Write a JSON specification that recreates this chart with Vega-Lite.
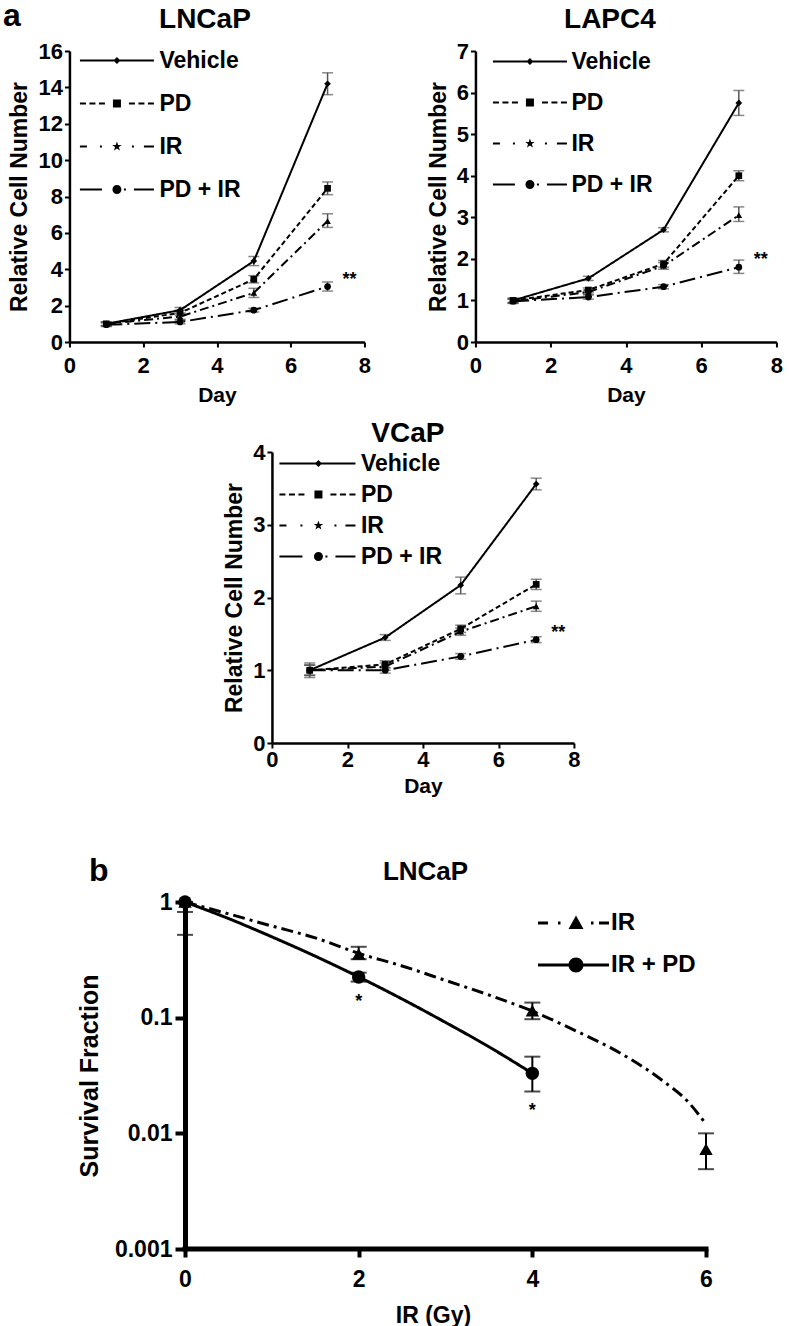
{
  "$schema": "https://vega.github.io/schema/vega-lite/v6.json",
  "padding": {"left": 2, "top": 0, "right": 2, "bottom": 2},
  "background": "white",
  "config": {
    "font": "Liberation Sans",
    "view": {"stroke": null},
    "axis": {"grid": false, "domainColor": "black", "tickColor": "black", "labelColor": "black", "titleColor": "black", "labelFontWeight": "bold", "titleFontWeight": "bold", "labelFont": "Liberation Sans", "titleFont": "Liberation Sans", "labelOverlap": false, "labelFlush": false},
    "title": {"fontWeight": "bold", "color": "black", "font": "Liberation Sans"}
  },
  "datasets": {
    "lncap": [
      {"day": 1, "series": "Vehicle", "value": 1.0, "lo": 0.9, "hi": 1.1},
      {"day": 3, "series": "Vehicle", "value": 1.75, "lo": 1.6, "hi": 1.9},
      {"day": 5, "series": "Vehicle", "value": 4.45, "lo": 4.2, "hi": 4.7},
      {"day": 7, "series": "Vehicle", "value": 14.2, "lo": 13.6, "hi": 14.8},
      {"day": 1, "series": "PD", "value": 1.0, "lo": 0.9, "hi": 1.1},
      {"day": 3, "series": "PD", "value": 1.6, "lo": 1.45, "hi": 1.75},
      {"day": 5, "series": "PD", "value": 3.45, "lo": 3.25, "hi": 3.65},
      {"day": 7, "series": "PD", "value": 8.45, "lo": 8.1, "hi": 8.8},
      {"day": 1, "series": "IR", "value": 1.0, "lo": 0.9, "hi": 1.1},
      {"day": 3, "series": "IR", "value": 1.4, "lo": 1.25, "hi": 1.55},
      {"day": 5, "series": "IR", "value": 2.7, "lo": 2.45, "hi": 2.95},
      {"day": 7, "series": "IR", "value": 6.65, "lo": 6.3, "hi": 7.05},
      {"day": 1, "series": "PD + IR", "value": 0.95, "lo": 0.85, "hi": 1.05},
      {"day": 3, "series": "PD + IR", "value": 1.1, "lo": 1.0, "hi": 1.2},
      {"day": 5, "series": "PD + IR", "value": 1.75, "lo": 1.65, "hi": 1.85},
      {"day": 7, "series": "PD + IR", "value": 3.05, "lo": 2.8, "hi": 3.3}
    ],
    "lapc4": [
      {"day": 1, "series": "Vehicle", "value": 1.0, "lo": 0.95, "hi": 1.05},
      {"day": 3, "series": "Vehicle", "value": 1.53, "lo": 1.48, "hi": 1.58},
      {"day": 5, "series": "Vehicle", "value": 2.7, "lo": 2.65, "hi": 2.75},
      {"day": 7, "series": "Vehicle", "value": 5.75, "lo": 5.45, "hi": 6.05},
      {"day": 1, "series": "PD", "value": 1.0, "lo": 0.95, "hi": 1.05},
      {"day": 3, "series": "PD", "value": 1.25, "lo": 1.2, "hi": 1.3},
      {"day": 5, "series": "PD", "value": 1.88, "lo": 1.8, "hi": 1.96},
      {"day": 7, "series": "PD", "value": 4.0, "lo": 3.88, "hi": 4.12},
      {"day": 1, "series": "IR", "value": 0.98, "lo": 0.93, "hi": 1.03},
      {"day": 3, "series": "IR", "value": 1.2, "lo": 1.15, "hi": 1.25},
      {"day": 5, "series": "IR", "value": 1.83, "lo": 1.75, "hi": 1.91},
      {"day": 7, "series": "IR", "value": 3.05, "lo": 2.9, "hi": 3.25},
      {"day": 1, "series": "PD + IR", "value": 0.98, "lo": 0.93, "hi": 1.03},
      {"day": 3, "series": "PD + IR", "value": 1.08, "lo": 1.03, "hi": 1.13},
      {"day": 5, "series": "PD + IR", "value": 1.33, "lo": 1.28, "hi": 1.38},
      {"day": 7, "series": "PD + IR", "value": 1.8, "lo": 1.65, "hi": 1.97}
    ],
    "vcap": [
      {"day": 1, "series": "Vehicle", "value": 1.0, "lo": 0.9, "hi": 1.1},
      {"day": 3, "series": "Vehicle", "value": 1.45, "lo": 1.41, "hi": 1.49},
      {"day": 5, "series": "Vehicle", "value": 2.17, "lo": 2.05, "hi": 2.28},
      {"day": 7, "series": "Vehicle", "value": 3.56, "lo": 3.48, "hi": 3.64},
      {"day": 1, "series": "PD", "value": 1.0, "lo": 0.93, "hi": 1.07},
      {"day": 3, "series": "PD", "value": 1.08, "lo": 1.03, "hi": 1.13},
      {"day": 5, "series": "PD", "value": 1.57, "lo": 1.52, "hi": 1.62},
      {"day": 7, "series": "PD", "value": 2.18, "lo": 2.11, "hi": 2.25},
      {"day": 1, "series": "IR", "value": 1.0, "lo": 0.93, "hi": 1.07},
      {"day": 3, "series": "IR", "value": 1.05, "lo": 1.0, "hi": 1.1},
      {"day": 5, "series": "IR", "value": 1.53, "lo": 1.48, "hi": 1.58},
      {"day": 7, "series": "IR", "value": 1.88, "lo": 1.81, "hi": 1.95},
      {"day": 1, "series": "PD + IR", "value": 1.0, "lo": 0.93, "hi": 1.07},
      {"day": 3, "series": "PD + IR", "value": 1.0, "lo": 0.96, "hi": 1.04},
      {"day": 5, "series": "PD + IR", "value": 1.19, "lo": 1.15, "hi": 1.23},
      {"day": 7, "series": "PD + IR", "value": 1.42, "lo": 1.38, "hi": 1.46}
    ],
    "b_pts": [
      {"dose": 0, "series": "IR", "sf": 1.0, "lo": 0.82, "hi": 1.0},
      {"dose": 2, "series": "IR", "sf": 0.355, "lo": 0.32, "hi": 0.41},
      {"dose": 4, "series": "IR", "sf": 0.115, "lo": 0.097, "hi": 0.135},
      {"dose": 6, "series": "IR", "sf": 0.0073, "lo": 0.0049, "hi": 0.01},
      {"dose": 0, "series": "IR + PD", "sf": 1.0, "lo": 0.52, "hi": 1.0},
      {"dose": 2, "series": "IR + PD", "sf": 0.225, "lo": 0.205, "hi": 0.245},
      {"dose": 4, "series": "IR + PD", "sf": 0.033, "lo": 0.023, "hi": 0.046}
    ],
    "b_curve": [
      {"dose": 0, "series": "IR", "sf": 1.0},
      {"dose": 0.5, "series": "IR", "sf": 0.79},
      {"dose": 1, "series": "IR", "sf": 0.62},
      {"dose": 1.5, "series": "IR", "sf": 0.49},
      {"dose": 2, "series": "IR", "sf": 0.36},
      {"dose": 2.5, "series": "IR", "sf": 0.28},
      {"dose": 3, "series": "IR", "sf": 0.21},
      {"dose": 3.5, "series": "IR", "sf": 0.157},
      {"dose": 4, "series": "IR", "sf": 0.114},
      {"dose": 4.5, "series": "IR", "sf": 0.077},
      {"dose": 5, "series": "IR", "sf": 0.05},
      {"dose": 5.5, "series": "IR", "sf": 0.0285},
      {"dose": 5.8, "series": "IR", "sf": 0.0185},
      {"dose": 6, "series": "IR", "sf": 0.012},
      {"dose": 0, "series": "IR + PD", "sf": 1.0},
      {"dose": 0.5, "series": "IR + PD", "sf": 0.72},
      {"dose": 1, "series": "IR + PD", "sf": 0.5},
      {"dose": 1.5, "series": "IR + PD", "sf": 0.34},
      {"dose": 2, "series": "IR + PD", "sf": 0.225},
      {"dose": 2.5, "series": "IR + PD", "sf": 0.145},
      {"dose": 3, "series": "IR + PD", "sf": 0.091},
      {"dose": 3.5, "series": "IR + PD", "sf": 0.056},
      {"dose": 4, "series": "IR + PD", "sf": 0.033}
    ]
  },
  "resolve": {"scale": {"shape": "independent", "strokeDash": "independent"}, "legend": {"shape": "independent", "strokeDash": "independent"}},
  "center": false,
  "spacing": 59,
  "vconcat": [
    {
      "center": true,
      "spacing": 15,
      "resolve": {"scale": {"shape": "independent", "strokeDash": "independent"}, "legend": {"shape": "independent", "strokeDash": "independent"}},
      "vconcat": [
        {
          "title": {"text": "a", "anchor": "start", "fontSize": 32, "offset": -27, "dx": -6, "frame": "bounds"},
          "spacing": 55,
          "resolve": {"scale": {"shape": "independent", "strokeDash": "independent"}, "legend": {"shape": "independent", "strokeDash": "independent"}},
          "hconcat": [
            {
              "width": 295, "height": 291,
              "title": {"text": "LNCaP", "fontSize": 28, "frame": "group", "offset": 6, "dx": -12},
              "data": {"name": "lncap"},
              "encoding": {
                "x": {"field": "day", "type": "quantitative", "scale": {"domain": [0, 8], "nice": false, "zero": false}, "axis": {"values": [0, 2, 4, 6, 8], "title": "Day", "domainWidth": 2.5, "tickWidth": 2, "tickSize": 5, "labelFontSize": 22, "titleFontSize": 21, "labelPadding": 8, "titlePadding": 8}},
                "y": {"field": "value", "type": "quantitative", "scale": {"domain": [0, 16], "nice": false}, "axis": {"values": [0, 2, 4, 6, 8, 10, 12, 14, 16], "title": "Relative Cell Number", "domainWidth": 2.5, "tickWidth": 2, "tickSize": 5, "labelFontSize": 22, "titleFontSize": 23, "labelPadding": 2, "titlePadding": 6}}
              },
              "layer": [
                {"mark": {"type": "errorbar", "ticks": {"size": 11, "thickness": 1.5, "color": "#555"}, "rule": {"strokeWidth": 1.5, "color": "#555"}},
                 "encoding": {"y": {"field": "lo", "type": "quantitative", "scale": {"domain": [0, 16], "nice": false}, "title": "Relative Cell Number"}, "y2": {"field": "hi"}}},
                {"mark": {"type": "line", "color": "black", "strokeWidth": 2},
                 "encoding": {"strokeDash": {"field": "series", "type": "nominal", "scale": {"domain": ["Vehicle", "PD", "IR", "PD + IR"], "range": [[1, 0], [5, 3], [9, 4, 2, 4], [16, 5, 2, 5]]}, "legend": null}}},
                {"mark": {"type": "point", "filled": true, "color": "black", "size": 45, "opacity": 1},
                 "encoding": {"shape": {"field": "series", "type": "nominal", "scale": {"domain": ["Vehicle", "PD", "IR", "PD + IR"], "range": ["diamond", "square", "triangle-up", "circle"]}, "legend": null}}},
                {"transform": [{"filter": "datum.series == 'PD + IR' && datum.day == 7"}],
                 "mark": {"type": "text", "text": "**", "dx": 22, "dy": -7, "fontSize": 18, "fontWeight": "bold", "color": "black"}},
                {"transform": [{"filter": "false"}],
                 "mark": {"type": "point", "size": 100, "filled": true, "color": "black", "opacity": 1},
                 "encoding": {"shape": {"field": "series", "type": "nominal",
                   "scale": {"domain": ["Vehicle", "PD", "IR", "PD + IR"], "range": [
                     "M-1,-0.2H13.8V0.2H-1ZM6.4,-0.7L7.1,0L6.4,0.7L5.7,0Z",
                     "M-1,-0.2H0.2V0.2H-1ZM0.9,-0.2H2.1V0.2H0.9ZM2.8,-0.2H4V0.2H2.8ZM8.8,-0.2H10V0.2H8.8ZM10.7,-0.2H11.9V0.2H10.7ZM12.6,-0.2H13.8V0.2H12.6ZM5.6,-0.8H7.2V0.8H5.6Z",
                     "M-1,-0.2H0.4V0.2H-1ZM3,-0.2H3.4V0.2H3ZM9.4,-0.2H9.8V0.2H9.4ZM11.8,-0.2H13.8V0.2H11.8ZM6.4,-1L6.635,-0.324L7.351,-0.309L6.78,0.124L6.988,0.809L6.4,0.4L5.812,0.809L6.02,0.124L5.449,-0.309L6.165,-0.324Z",
                     "M-1,-0.2H3.4V0.2H-1ZM7.8,-0.2H8.2V0.2H7.8ZM9.8,-0.2H13.8V0.2H9.8ZM5.5,0A0.9,0.9,0,1,1,7.3,0A0.9,0.9,0,1,1,5.5,0Z"]},
                   "legend": {"title": null, "orient": "none", "legendX": 4, "legendY": -2, "direction": "vertical", "symbolSize": 100, "rowPadding": 19, "labelOffset": 63, "labelFontSize": 23, "labelFontWeight": "bold", "labelColor": "black", "labelFont": "Liberation Sans", "padding": 0, "labelLimit": 0,
                     "symbolFillColor": "black", "symbolStrokeWidth": 0, "symbolOpacity": 1}}}}
              ],
              "resolve": {"scale": {"shape": "independent"}, "legend": {"shape": "independent"}}
            },
            {
              "width": 301, "height": 291,
              "title": {"text": "LAPC4", "fontSize": 28, "frame": "group", "offset": 6, "dx": -16},
              "data": {"name": "lapc4"},
              "encoding": {
                "x": {"field": "day", "type": "quantitative", "scale": {"domain": [0, 8], "nice": false, "zero": false}, "axis": {"values": [0, 2, 4, 6, 8], "title": "Day", "domainWidth": 2.5, "tickWidth": 2, "tickSize": 5, "labelFontSize": 22, "titleFontSize": 21, "labelPadding": 8, "titlePadding": 8}},
                "y": {"field": "value", "type": "quantitative", "scale": {"domain": [0, 7], "nice": false}, "axis": {"values": [0, 1, 2, 3, 4, 5, 6, 7], "title": "Relative Cell Number", "domainWidth": 2.5, "tickWidth": 2, "tickSize": 5, "labelFontSize": 22, "titleFontSize": 23, "labelPadding": 2, "titlePadding": 6}}
              },
              "layer": [
                {"mark": {"type": "errorbar", "ticks": {"size": 11, "thickness": 1.5, "color": "#555"}, "rule": {"strokeWidth": 1.5, "color": "#555"}},
                 "encoding": {"y": {"field": "lo", "type": "quantitative", "scale": {"domain": [0, 7], "nice": false}, "title": "Relative Cell Number"}, "y2": {"field": "hi"}}},
                {"mark": {"type": "line", "color": "black", "strokeWidth": 2},
                 "encoding": {"strokeDash": {"field": "series", "type": "nominal", "scale": {"domain": ["Vehicle", "PD", "IR", "PD + IR"], "range": [[1, 0], [5, 3], [9, 4, 2, 4], [16, 5, 2, 5]]}, "legend": null}}},
                {"mark": {"type": "point", "filled": true, "color": "black", "size": 45, "opacity": 1},
                 "encoding": {"shape": {"field": "series", "type": "nominal", "scale": {"domain": ["Vehicle", "PD", "IR", "PD + IR"], "range": ["diamond", "square", "triangle-up", "circle"]}, "legend": null}}},
                {"transform": [{"filter": "datum.series == 'PD + IR' && datum.day == 7"}],
                 "mark": {"type": "text", "text": "**", "dx": 22, "dy": -7, "fontSize": 18, "fontWeight": "bold", "color": "black"}},
                {"transform": [{"filter": "false"}],
                 "mark": {"type": "point", "size": 100, "filled": true, "color": "black", "opacity": 1},
                 "encoding": {"shape": {"field": "series", "type": "nominal",
                   "scale": {"domain": ["Vehicle", "PD", "IR", "PD + IR"], "range": [
                     "M-1,-0.2H13.8V0.2H-1ZM6.4,-0.7L7.1,0L6.4,0.7L5.7,0Z",
                     "M-1,-0.2H0.2V0.2H-1ZM0.9,-0.2H2.1V0.2H0.9ZM2.8,-0.2H4V0.2H2.8ZM8.8,-0.2H10V0.2H8.8ZM10.7,-0.2H11.9V0.2H10.7ZM12.6,-0.2H13.8V0.2H12.6ZM5.6,-0.8H7.2V0.8H5.6Z",
                     "M-1,-0.2H0.4V0.2H-1ZM3,-0.2H3.4V0.2H3ZM9.4,-0.2H9.8V0.2H9.4ZM11.8,-0.2H13.8V0.2H11.8ZM6.4,-1L6.635,-0.324L7.351,-0.309L6.78,0.124L6.988,0.809L6.4,0.4L5.812,0.809L6.02,0.124L5.449,-0.309L6.165,-0.324Z",
                     "M-1,-0.2H3.4V0.2H-1ZM7.8,-0.2H8.2V0.2H7.8ZM9.8,-0.2H13.8V0.2H9.8ZM5.5,0A0.9,0.9,0,1,1,7.3,0A0.9,0.9,0,1,1,5.5,0Z"]},
                   "legend": {"title": null, "orient": "none", "legendX": 11, "legendY": -1, "direction": "vertical", "symbolSize": 100, "rowPadding": 17, "labelOffset": 62, "labelFontSize": 23, "labelFontWeight": "bold", "labelColor": "black", "labelFont": "Liberation Sans", "padding": 0, "labelLimit": 0,
                     "symbolFillColor": "black", "symbolStrokeWidth": 0, "symbolOpacity": 1}}}}
              ],
              "resolve": {"scale": {"shape": "independent"}, "legend": {"shape": "independent"}}
            }
          ]
        },
        {
          "width": 302, "height": 291,
          "title": {"text": "VCaP", "fontSize": 28, "frame": "group", "offset": -7, "dx": -15},
          "data": {"name": "vcap"},
          "encoding": {
            "x": {"field": "day", "type": "quantitative", "scale": {"domain": [0, 8], "nice": false, "zero": false}, "axis": {"values": [0, 2, 4, 6, 8], "title": "Day", "domainWidth": 2.5, "tickWidth": 2, "tickSize": 5, "labelFontSize": 22, "titleFontSize": 21, "labelPadding": 1, "titlePadding": 5}},
            "y": {"field": "value", "type": "quantitative", "scale": {"domain": [0, 4], "nice": false}, "axis": {"values": [0, 1, 2, 3, 4], "title": "Relative Cell Number", "domainWidth": 2.5, "tickWidth": 2, "tickSize": 5, "labelFontSize": 22, "titleFontSize": 23, "labelPadding": 2, "titlePadding": 6}}
          },
          "layer": [
            {"mark": {"type": "errorbar", "ticks": {"size": 11, "thickness": 1.5, "color": "#555"}, "rule": {"strokeWidth": 1.5, "color": "#555"}},
             "encoding": {"y": {"field": "lo", "type": "quantitative", "scale": {"domain": [0, 4], "nice": false}, "title": "Relative Cell Number"}, "y2": {"field": "hi"}}},
            {"mark": {"type": "line", "color": "black", "strokeWidth": 2},
             "encoding": {"strokeDash": {"field": "series", "type": "nominal", "scale": {"domain": ["Vehicle", "PD", "IR", "PD + IR"], "range": [[1, 0], [5, 3], [9, 4, 2, 4], [16, 5, 2, 5]]}, "legend": null}}},
            {"mark": {"type": "point", "filled": true, "color": "black", "size": 45, "opacity": 1},
             "encoding": {"shape": {"field": "series", "type": "nominal", "scale": {"domain": ["Vehicle", "PD", "IR", "PD + IR"], "range": ["diamond", "square", "triangle-up", "circle"]}, "legend": null}}},
            {"transform": [{"filter": "datum.series == 'PD + IR' && datum.day == 7"}],
             "mark": {"type": "text", "text": "**", "dx": 22, "dy": -7, "fontSize": 18, "fontWeight": "bold", "color": "black"}},
            {"transform": [{"filter": "false"}],
             "mark": {"type": "point", "size": 100, "filled": true, "color": "black", "opacity": 1},
             "encoding": {"shape": {"field": "series", "type": "nominal",
               "scale": {"domain": ["Vehicle", "PD", "IR", "PD + IR"], "range": [
                 "M-1,-0.2H14.2V0.2H-1ZM6.8,-0.7L7.5,0L6.8,0.7L6.1,0Z",
                 "M-1,-0.2H0.2V0.2H-1ZM0.9,-0.2H2.1V0.2H0.9ZM2.8,-0.2H4V0.2H2.8ZM9.2,-0.2H10.4V0.2H9.2ZM11.1,-0.2H12.3V0.2H11.1ZM13,-0.2H14.2V0.2H13ZM6,-0.8H7.6V0.8H6Z",
                 "M-1,-0.2H0.4V0.2H-1ZM3.2,-0.2H3.6V0.2H3.2ZM10,-0.2H10.4V0.2H10ZM12.2,-0.2H14.2V0.2H12.2ZM6.8,-1L7.035,-0.324L7.751,-0.309L7.18,0.124L7.388,0.809L6.8,0.4L6.212,0.809L6.42,0.124L5.849,-0.309L6.565,-0.324Z",
                 "M-1,-0.2H3.6V0.2H-1ZM8.2,-0.2H8.6V0.2H8.2ZM10.2,-0.2H14.2V0.2H10.2ZM5.9,0A0.9,0.9,0,1,1,7.7,0A0.9,0.9,0,1,1,5.9,0Z"]},
               "legend": {"title": null, "orient": "none", "legendX": 1, "legendY": 0, "direction": "vertical", "symbolSize": 100, "rowPadding": 7, "labelOffset": 65, "labelFontSize": 23, "labelFontWeight": "bold", "labelColor": "black", "labelFont": "Liberation Sans", "padding": 0, "labelLimit": 0,
                 "symbolFillColor": "black", "symbolStrokeWidth": 0, "symbolOpacity": 1}}}}
          ],
          "resolve": {"scale": {"shape": "independent"}, "legend": {"shape": "independent"}}
        }
      ]
    },
    {
      "title": {"text": "b", "anchor": "start", "fontSize": 32, "offset": -29, "dx": 20, "frame": "bounds"},
      "resolve": {"scale": {"shape": "independent", "strokeDash": "independent"}, "legend": {"shape": "independent", "strokeDash": "independent"}},
      "vconcat": [
        {
          "width": 637, "height": 347,
          "title": {"text": "LNCaP", "fontSize": 26, "frame": "group", "offset": 6, "dx": 38},
          "encoding": {
            "x": {"field": "dose", "type": "quantitative", "scale": {"domain": [-1.336, 6], "nice": false, "zero": false}, "axis": {"values": [0, 2, 4, 6], "title": "IR (Gy)", "domain": false, "tickWidth": 4, "tickSize": 8, "labelFontSize": 23, "titleFontSize": 23, "labelPadding": 11, "titlePadding": 13, "titleX": 364}},
            "y": {"field": "sf", "type": "quantitative", "scale": {"type": "log", "domain": [0.001, 1], "nice": false}, "axis": {"values": [0.001, 0.01, 0.1, 1], "format": "~g", "title": "Survival Fraction", "offset": -116, "domainWidth": 5, "tickWidth": 4, "tickSize": 10, "labelFontSize": 23, "titleFontSize": 25, "labelPadding": 3, "titlePadding": 12}}
          },
          "layer": [
            {"data": {"name": "b_pts"},
             "transform": [{"filter": "datum.dose == 0 && datum.series == 'IR'"}],
             "mark": {"type": "rule", "color": "black", "strokeWidth": 5, "strokeCap": "square"},
             "encoding": {"x": {"datum": 0, "type": "quantitative", "title": "IR (Gy)"}, "x2": {"datum": 6}, "y": {"datum": 0.001, "type": "quantitative", "title": "Survival Fraction"}}},
            {"data": {"name": "b_curve"},
             "mark": {"type": "line", "interpolate": "monotone", "color": "black", "strokeWidth": 3},
             "encoding": {"strokeDash": {"field": "series", "type": "nominal", "scale": {"domain": ["IR", "IR + PD"], "range": [[12, 5, 3, 5], [1, 0]]}, "legend": null}}},
            {"data": {"name": "b_pts"},
             "mark": {"type": "errorbar", "ticks": {"size": 16, "thickness": 2, "color": "black"}, "rule": {"strokeWidth": 2, "color": "black"}},
             "encoding": {"y": {"field": "lo", "type": "quantitative", "scale": {"type": "log", "domain": [0.001, 1], "nice": false}, "title": "Survival Fraction"}, "y2": {"field": "hi"}}},
            {"data": {"name": "b_pts"},
             "mark": {"type": "point", "filled": true, "color": "black", "size": 180, "opacity": 1},
             "encoding": {"shape": {"field": "series", "type": "nominal", "scale": {"domain": ["IR", "IR + PD"], "range": ["triangle-up", "circle"]}, "legend": null}}},
            {"data": {"name": "b_pts"},
             "transform": [{"filter": "datum.series == 'IR + PD' && datum.dose > 0"}],
             "mark": {"type": "text", "text": "*", "dy": 20, "fontSize": 18, "fontWeight": "bold", "color": "black"},
             "encoding": {"y": {"field": "lo", "type": "quantitative", "scale": {"type": "log", "domain": [0.001, 1], "nice": false}, "title": "Survival Fraction"}}},
            {"data": {"name": "b_pts"},
             "transform": [{"filter": "false"}],
             "mark": {"type": "point", "size": 100, "filled": true, "color": "black", "opacity": 1},
             "encoding": {"shape": {"field": "series", "type": "nominal",
               "scale": {"domain": ["IR", "IR + PD"], "range": [
                 "M-1,-0.3H1V0.3H-1ZM3,-0.3H3.5V0.3H3ZM9.6,-0.3H10.1V0.3H9.6ZM11.2,-0.3H13.2V0.3H11.2ZM6.6,-1.5L8.1,1.2L5.1,1.2Z",
                 "M-1,-0.3H13.2V0.3H-1ZM5.1,0A1.5,1.5,0,1,1,8.1,0A1.5,1.5,0,1,1,5.1,0Z"]},
               "legend": {"title": null, "orient": "none", "legendX": 462, "legendY": 9, "direction": "vertical", "symbolSize": 100, "rowPadding": 18, "labelOffset": 56, "labelFontSize": 24, "labelFontWeight": "bold", "labelColor": "black", "labelFont": "Liberation Sans", "padding": 0, "labelLimit": 0,
                 "symbolFillColor": "black", "symbolStrokeWidth": 0, "symbolOpacity": 1}}}}
          ],
          "resolve": {"scale": {"shape": "independent"}, "legend": {"shape": "independent"}}
        }
      ]
    }
  ]
}
